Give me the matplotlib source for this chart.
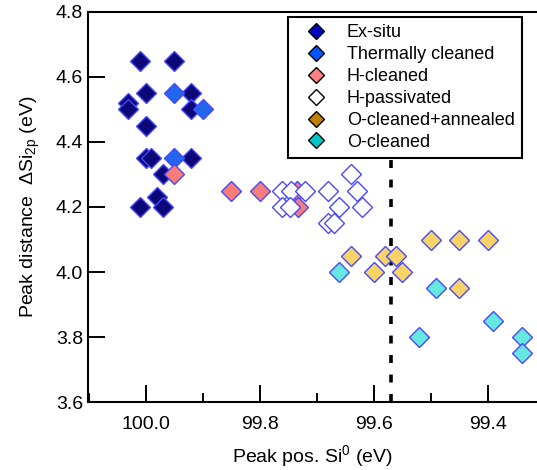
import matplotlib
matplotlib.use("Agg")
import matplotlib.pyplot as plt
from matplotlib.lines import Line2D
from matplotlib.ticker import MultipleLocator

plt.rcParams['font.family'] = ['Liberation Sans', 'DejaVu Sans']
plt.rcParams['mathtext.fontset'] = 'custom'
plt.rcParams['mathtext.rm'] = 'Liberation Sans'
plt.rcParams['mathtext.default'] = 'regular'

# Daten
exsitu_x = [100.01, 99.95, 100.0, 99.92, 100.03, 100.03, 99.92, 100.0,
            100.0, 99.99, 99.92, 99.97, 100.01, 99.98, 99.97]
exsitu_y = [4.65, 4.65, 4.55, 4.55, 4.52, 4.50, 4.50, 4.45,
            4.35, 4.35, 4.35, 4.30, 4.20, 4.23, 4.20]

thermal_x = [99.95, 99.90, 99.95]
thermal_y = [4.55, 4.50, 4.35]

hclean_x = [99.95, 99.85, 99.80, 99.735, 99.733]
hclean_y = [4.30, 4.25, 4.25, 4.25, 4.20]

hpass_x = [99.76, 99.745, 99.72, 99.68, 99.63, 99.64,
           99.76, 99.747, 99.66, 99.62, 99.68, 99.67]
hpass_y = [4.25, 4.25, 4.25, 4.25, 4.25, 4.30,
           4.20, 4.20, 4.20, 4.20, 4.15, 4.15]

oanneal_x = [99.50, 99.45, 99.40, 99.64, 99.58, 99.56, 99.60, 99.55, 99.45]
oanneal_y = [4.10, 4.10, 4.10, 4.05, 4.05, 4.05, 4.00, 4.00, 3.95]

oclean_x = [99.66, 99.49, 99.39, 99.52, 99.34, 99.34]
oclean_y = [4.00, 3.95, 3.85, 3.80, 3.80, 3.75]

labels = ['Ex-situ', 'Thermally cleaned', 'H-cleaned', 'H-passivated',
          'O-cleaned+annealed', 'O-cleaned']
data_colors = ['#0c0878', '#2266ee', '#f87c78', 'white', '#f8d468', '#66e8e0']
legend_colors = ['#0000c0', '#0055ff', '#ff8080', 'white', '#c08000', '#00c8c8']
vline_x = 99.569

fig = plt.figure(figsize=(5.37, 4.70), dpi=100)
ax = fig.add_axes([88/537, 67.7/470, (537-88)/537, 390.6/470])

edge = '#4848ff'
series = [(exsitu_x, exsitu_y), (thermal_x, thermal_y), (hclean_x, hclean_y),
          (hpass_x, hpass_y), (oanneal_x, oanneal_y), (oclean_x, oclean_y)]
for (xs, ys), c in zip(series, data_colors):
    ax.plot(xs, ys, linestyle='none', marker='D', markersize=10,
            markerfacecolor=c, markeredgecolor=edge, markeredgewidth=1.0)

ax.axvline(vline_x, color='black', lw=2.6, linestyle=(0, (2.2, 3.2)), zorder=1)

ax.set_xlim(100.101, 99.3135)
ax.set_ylim(3.6, 4.8)
ax.xaxis.set_major_locator(MultipleLocator(0.2))
ax.xaxis.set_minor_locator(MultipleLocator(0.1))
ax.yaxis.set_major_locator(MultipleLocator(0.2))
ax.xaxis.set_major_formatter(matplotlib.ticker.FormatStrFormatter('%.1f'))
ax.yaxis.set_major_formatter(matplotlib.ticker.FormatStrFormatter('%.1f'))
ax.tick_params(which='major', direction='in', length=12.5, width=1.4, labelsize=14)
ax.tick_params(which='minor', direction='in', length=6.5, width=1.4)
ax.tick_params(axis='x', pad=10)
for s in ['left', 'bottom', 'top']:
    ax.spines[s].set_linewidth(1.5)
ax.spines['right'].set_visible(False)

ax.set_xlabel('Peak pos. Si$^0$ (eV)', fontsize=14, labelpad=7)
ax.set_ylabel('Peak distance  $\\Delta$Si$_{2p}$ (eV)', fontsize=14, labelpad=10)

handles = [Line2D([], [], linestyle='none', marker='D', markersize=8,
                  markerfacecolor=c, markeredgecolor='black', markeredgewidth=1.0)
           for c in legend_colors]
leg = ax.legend(handles, labels, loc='upper right', bbox_to_anchor=(0.966, 0.986),
                fontsize=13, fancybox=False, framealpha=1, edgecolor='black',
                borderpad=0.4, labelspacing=0.27, handlelength=2.3,
                handletextpad=0.55, borderaxespad=0)
leg.get_frame().set_linewidth(1.5)

fig.savefig('out.png', dpi=100)
